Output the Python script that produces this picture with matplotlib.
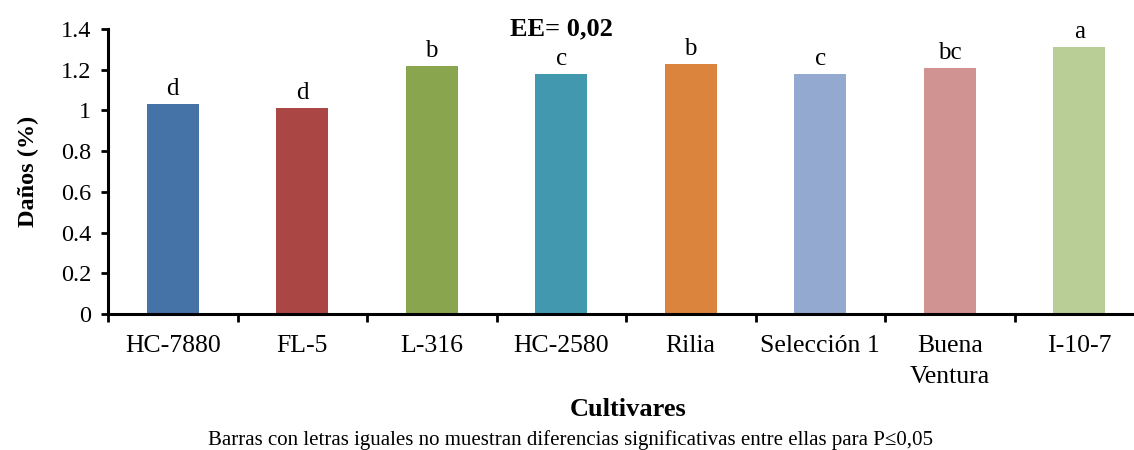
import matplotlib.pyplot as plt
import numpy as np

# data
cultivares = ['HC-7880', 'FL-5', 'L-316', 'HC-2580', 'Rilia', 'Selección 1', 'Buena\nVentura', 'I-10-7']
danos = [1.03, 1.01, 1.22, 1.18, 1.23, 1.18, 1.21, 1.31]
letras = ['d', 'd', 'b', 'c', 'b', 'c', 'bc', 'a']
colores = ['#4572A7', '#AA4643', '#89A54E', '#4198AF', '#DB843D', '#93A9CF', '#D19392', '#B9CD96']

plt.rcParams['font.family'] = ['Liberation Serif', 'DejaVu Serif']

fig = plt.figure(figsize=(11.34, 4.5), dpi=100)
ax = fig.add_axes([108 / 1134, 136 / 450, (1144 - 108) / 1134, (314 - 29) / 450])

x = np.arange(len(cultivares))
ax.bar(x, danos, width=0.4, color=colores)

for xi, v, l in zip(x, danos, letras):
    ax.text(xi, v + 0.02, l, ha='center', va='bottom', fontsize=18)

ax.set_xlim(-0.5, len(cultivares) - 0.5)
ax.set_ylim(0, 1.4)
ax.set_yticks(np.arange(0, 1.41, 0.2))
ax.set_yticklabels(['0', '0.2', '0.4', '0.6', '0.8', '1', '1.2', '1.4'])
ax.set_xticks(x)
ax.set_xticklabels(cultivares, fontsize=18.5, linespacing=1.55)
ax.set_xticks(np.arange(-0.5, len(cultivares), 1), minor=True)
ax.tick_params(axis='x', which='major', length=0, pad=15)
ax.tick_params(axis='x', which='minor', length=6, width=2, direction='out')
ax.tick_params(axis='y', labelsize=17.5, length=5, width=2, direction='out', pad=7)
for lbl in ax.get_xticklabels():
    lbl.set_va('top')

for s in ['top', 'right']:
    ax.spines[s].set_visible(False)
for s in ['left', 'bottom']:
    ax.spines[s].set_linewidth(2.2)

ax.set_ylabel('Daños (%)', fontsize=17.5, fontweight='bold', labelpad=16)
fig.text(561 / 1134, 1 - 29 / 450, 'EE= 0,02', ha='center', va='center', fontsize=19, fontweight='bold')
fig.text(628 / 1134, 1 - 410 / 450, 'Cultivares', ha='center', va='center', fontsize=19, fontweight='bold')
fig.text(571 / 1134, 1 - 440 / 450, 'Barras con letras iguales no muestran diferencias significativas entre ellas para P≤0,05',
         ha='center', va='center', fontsize=15)

fig.savefig('out.png', dpi=100)
